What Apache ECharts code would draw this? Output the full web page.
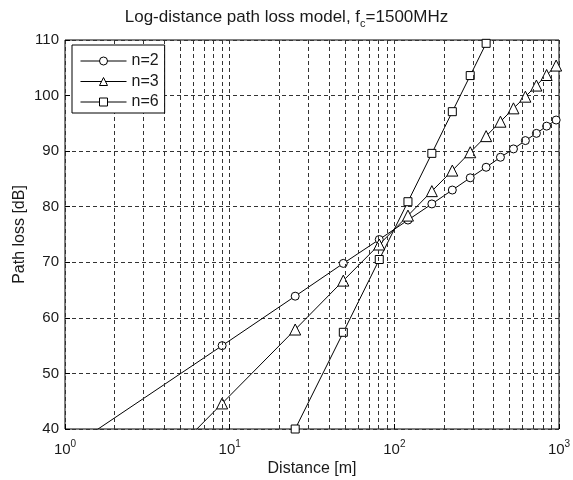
<!DOCTYPE html>
<html>
<head>
<meta charset="utf-8">
<script src="https://cdn.jsdelivr.net/npm/echarts@6/dist/echarts.min.js"></script>
<style>
html,body{margin:0;padding:0;background:#fff;}
#chart{width:573px;height:480px;}
</style>
</head>
<body>
<div id="chart"></div>
<script>
// Distance samples [m] (markers drawn at each sample)
const distances = [1, 9, 25, 49, 81, 121, 169, 225, 289, 361, 441, 529, 625, 729, 841, 961];
// Path loss [dB]
const lossN2 = [36.0, 55.0, 63.9, 69.8, 74.1, 77.6, 80.5, 83.0, 85.2, 87.1, 88.9, 90.4, 91.9, 93.2, 94.5, 95.6];
const lossN3 = [16.0, 44.6, 57.9, 66.7, 73.2, 78.4, 82.8, 86.5, 89.8, 92.7, 95.3, 97.7, 99.8, 101.8, 103.7, 105.4];
const lossN6 = [null, null, 40.0, 57.4, 70.5, 80.9, 89.6, 97.1, 103.6, 109.4, null, null, null, null, null, null];
const seriesNames = ['n=2', 'n=3', 'n=6'];
const seriesSymbols = ['circle', 'triangle', 'rect'];
// x tick exponents (10^k) and minor log grid positions
const xTickExponents = {1: 0, 10: 1, 100: 2, 1000: 3};
const minorGridX = [2, 3, 4, 5, 6, 7, 8, 9, 20, 30, 40, 50, 60, 70, 80, 90, 200, 300, 400, 500, 600, 700, 800, 900];

function pairs(vals) {
  const out = [];
  vals.forEach((v, i) => { if (v !== null) out.push([distances[i], v]); });
  return out;
}

const FONT = '"Liberation Sans", Arial, Helvetica, sans-serif';
const TXT = '#1a1a1a';
const gridLine = { show: true, lineStyle: { color: '#333', width: 1, type: [4, 3] } };

const chart = echarts.init(document.getElementById('chart'), null, { renderer: 'canvas' });

const lineSeries = [lossN2, lossN3, lossN6].map((vals, i) => ({
  name: seriesNames[i],
  type: 'line',
  data: pairs(vals),
  symbol: seriesSymbols[i],
  symbolSize: i === 1 ? 11 : 8,
  showAllSymbol: true,
  clip: true,
  z: 3,
  lineStyle: { color: '#000', width: 1 },
  itemStyle: { color: '#fff', borderColor: '#000', borderWidth: 1 },
  emphasis: { disabled: true },
  animation: false
}));

const option = {
  animation: false,
  backgroundColor: '#fff',
  textStyle: { fontFamily: FONT, color: TXT },
  title: {
    text: '{a|Log-distance path loss model, f}{s|c}{a|=1500MHz}',
    left: 'center',
    top: 1,
    textStyle: {
      fontWeight: 'normal',
      rich: {
        a: { fontFamily: FONT, fontSize: 17, fontWeight: 'normal', color: TXT, lineHeight: 20, verticalAlign: 'bottom' },
        s: { fontFamily: FONT, fontSize: 11, fontWeight: 'normal', color: TXT, lineHeight: 11, verticalAlign: 'bottom', padding: [0, 0, -3, 0] }
      }
    }
  },
  grid: {
    left: 65, right: 14, top: 40, bottom: 51,
    containLabel: false,
    outerBoundsMode: 'none',
    show: true, borderColor: '#000', borderWidth: 1, backgroundColor: 'transparent'
  },
  legend: {
    data: seriesNames,
    orient: 'vertical',
    left: 72, top: 45,
    z: 20,
    itemWidth: 46, itemHeight: 10, itemGap: 4.5,
    padding: [8, 6, 3, 8],
    backgroundColor: '#fff',
    borderColor: '#000', borderWidth: 1, borderRadius: 0,
    lineStyle: { width: 1, color: '#000' },
    itemStyle: { borderWidth: 1, color: '#fff', borderColor: '#000' },
    textStyle: { fontFamily: FONT, fontSize: 16, color: TXT },
    selectedMode: false
  },
  xAxis: {
    type: 'log', logBase: 10, min: 1, max: 1000,
    name: 'Distance [m]', nameLocation: 'middle', nameGap: 32,
    nameMoveOverlap: false,
    nameTextStyle: { fontFamily: FONT, fontSize: 16, color: TXT },
    axisLine: { show: false },
    axisTick: { show: true, inside: true, length: 5, lineStyle: { color: '#000' } },
    splitLine: gridLine,
    axisLabel: {
      margin: 10,
      formatter: function (v) {
        const e = xTickExponents[Math.round(v)];
        return '{b|10}{s|' + e + '}';
      },
      rich: {
        b: { fontFamily: FONT, fontSize: 15, color: TXT, lineHeight: 18, verticalAlign: 'bottom' },
        s: { fontFamily: FONT, fontSize: 10, color: TXT, lineHeight: 18, verticalAlign: 'top', padding: [0, 0, 6, 0] }
      }
    }
  },
  yAxis: {
    type: 'value', min: 40, max: 110, interval: 10,
    name: 'Path loss [dB]', nameLocation: 'middle', nameGap: 37, nameRotate: 90,
    nameMoveOverlap: false,
    nameTextStyle: { fontFamily: FONT, fontSize: 16, color: TXT },
    axisLine: { show: false },
    axisTick: { show: true, inside: true, length: 5, lineStyle: { color: '#000' } },
    splitLine: gridLine,
    axisLabel: { margin: 6, fontFamily: FONT, fontSize: 15, color: TXT }
  },
  series: [{
    name: 'minor-grid',
    type: 'line',
    data: [],
    z: 1,
    silent: true,
    markLine: {
      silent: true,
      symbol: ['none', 'none'],
      label: { show: false },
      animation: false,
      lineStyle: { color: '#333', width: 1, type: [4, 3] },
      emphasis: { disabled: true },
      data: minorGridX.map(x => ({ xAxis: x }))
    }
  }].concat(lineSeries)
};

chart.setOption(option);
</script>
</body>
</html>
